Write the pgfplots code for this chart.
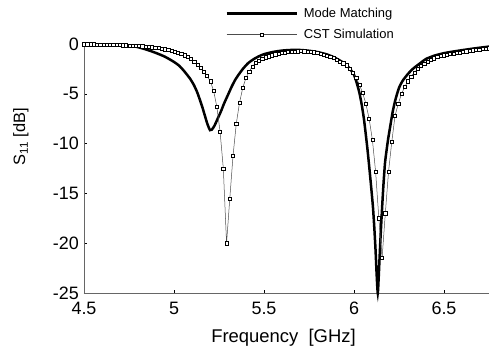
\documentclass[border=0pt]{standalone}
\usepackage{pgfplots}
\pgfplotsset{compat=1.18}
\usepackage{fontspec}
\setmainfont{Liberation Sans}
\begin{document}
\begin{tikzpicture}
\path[use as bounding box] (-84bp,-55bp) rectangle (405bp,293bp);
\begin{axis}[
 at={(0,0)}, anchor=south west,
 scale only axis, width=405bp, height=249bp,
 xmin=4.5, xmax=6.75, ymin=-25, ymax=0,
 axis x line=bottom, axis y line=left,
 axis line style={-, draw=gray!80!black, line width=0.6bp},
 xtick={4.5,5,5.5,6,6.5}, ytick={-25,-20,-15,-10,-5,0},
 tick align=inside, major tick length=3bp, tick style={black, line width=0.5bp},
 /pgf/number format/assume math mode=true,
 ticklabel style={font=\fontsize{18}{20}\selectfont},
 yticklabel style={inner sep=2bp, xshift=-3bp},
 xticklabel style={inner sep=2bp, yshift=-7bp},
 xlabel={Frequency\ \ [GHz]}, ylabel={S\textsubscript{11} [dB]},
 label style={font=\fontsize{18.5}{20}\selectfont},
 xlabel style={at={(axis description cs:0.4926,-0.178)}, anchor=center},
 ylabel style={at={(axis description cs:-0.1556,0.627)}, anchor=center, font=\fontsize{16.5}{18}\selectfont},
 clip=false,
 legend style={draw=none, fill=none, at={(axis description cs:0.341,1.162)}, anchor=north west,
   font=\fontsize{13}{15}\selectfont, row sep=6.5bp,
   /tikz/every odd column/.append style={column sep=4bp}},
 legend cell align=left,
 legend image code/.code={\draw[mark repeat=2,mark phase=2,#1] plot coordinates {(0bp,0bp) (35bp,0bp) (70bp,0bp)};},
]
\addplot[black, line width=2.5bp, smooth, tension=0.4] coordinates {
(4.50,-0.03) (4.55,-0.04) (4.60,-0.05) (4.65,-0.07) (4.70,-0.10) (4.75,-0.15)
(4.80,-0.32) (4.85,-0.58) (4.90,-0.90) (4.95,-1.28) (5.00,-1.80) (5.03,-2.20)
(5.06,-2.80) (5.09,-3.50) (5.11,-4.10) (5.13,-4.90) (5.155,-6.20) (5.17,-7.10)
(5.185,-8.00) (5.20,-8.65) (5.21,-8.60) (5.225,-8.20) (5.24,-7.60) (5.26,-6.80)
(5.28,-5.90) (5.30,-5.10) (5.32,-4.30) (5.34,-3.60) (5.36,-3.05) (5.385,-2.45)
(5.41,-1.95) (5.44,-1.55) (5.47,-1.25) (5.50,-1.02) (5.55,-0.80) (5.60,-0.66)
(5.65,-0.60) (5.70,-0.60) (5.75,-0.68) (5.80,-0.82) (5.85,-1.05) (5.89,-1.35)
(5.93,-1.75) (5.96,-2.15) (5.98,-2.55) (6.00,-3.10) (6.015,-3.90) (6.03,-4.90)
(6.043,-6.10) (6.055,-7.50) (6.065,-9.00) (6.075,-10.60) (6.085,-12.40) (6.095,-14.30)
(6.105,-16.30) (6.113,-18.50) (6.12,-20.80) (6.126,-23.20) (6.132,-25.00) (6.137,-23.50)
(6.142,-21.50) (6.148,-19.20) (6.155,-16.80) (6.163,-14.30) (6.172,-12.00) (6.18,-10.80)
(6.19,-9.50) (6.20,-8.40) (6.215,-6.80) (6.23,-5.60) (6.25,-4.40) (6.27,-3.70)
(6.30,-3.00) (6.33,-2.45) (6.37,-1.90) (6.40,-1.50) (6.45,-1.15) (6.50,-0.92)
(6.55,-0.76) (6.60,-0.62) (6.65,-0.49) (6.70,-0.37) (6.75,-0.26)
};
\addlegendentry{Mode Matching}
\addplot[gray!60!black, line width=0.5bp, mark=square*, mark size=1.6bp,
  mark options={fill=white, draw=black, line width=0.5bp}] coordinates {
(4.500,-0.02) (4.518,-0.02) (4.536,-0.03) (4.554,-0.03) (4.572,-0.04) (4.590,-0.04)
(4.608,-0.05) (4.626,-0.06) (4.644,-0.07) (4.662,-0.08) (4.680,-0.09) (4.698,-0.10)
(4.716,-0.12) (4.734,-0.13) (4.752,-0.15) (4.770,-0.17) (4.788,-0.19) (4.806,-0.21)
(4.824,-0.23) (4.842,-0.26) (4.860,-0.29) (4.878,-0.32) (4.896,-0.36) (4.914,-0.41)
(4.932,-0.46) (4.950,-0.52) (4.968,-0.59) (4.986,-0.67) (5.004,-0.76) (5.022,-0.87)
(5.040,-0.99) (5.058,-1.13) (5.076,-1.30) (5.094,-1.50) (5.112,-1.75) (5.130,-2.05)
(5.148,-2.40) (5.166,-2.80) (5.184,-3.20) (5.202,-3.75) (5.220,-4.70) (5.238,-6.30)
(5.256,-8.80) (5.274,-12.50) (5.292,-20.00) (5.310,-15.50) (5.328,-11.20) (5.346,-8.00)
(5.364,-5.90) (5.382,-4.40) (5.400,-3.40) (5.418,-2.75) (5.436,-2.25) (5.454,-1.90)
(5.472,-1.65) (5.490,-1.47) (5.508,-1.33) (5.526,-1.22) (5.544,-1.12) (5.562,-1.03)
(5.580,-0.96) (5.598,-0.90) (5.616,-0.85) (5.634,-0.80) (5.652,-0.77) (5.670,-0.74)
(5.688,-0.72) (5.706,-0.71) (5.724,-0.72) (5.742,-0.74) (5.760,-0.77) (5.778,-0.82)
(5.796,-0.88) (5.814,-0.96) (5.832,-1.06) (5.850,-1.18) (5.868,-1.30) (5.886,-1.42)
(5.904,-1.58) (5.922,-1.75) (5.940,-1.93) (5.958,-2.13) (5.976,-2.45) (5.994,-2.85)
(6.012,-3.35) (6.030,-4.10) (6.048,-4.90) (6.066,-6.00) (6.084,-7.50) (6.102,-9.60)
(6.120,-12.80) (6.138,-17.50) (6.156,-21.50) (6.174,-17.00) (6.192,-12.80) (6.210,-9.80)
(6.228,-7.20) (6.246,-6.00) (6.264,-5.00) (6.282,-4.30) (6.300,-3.75) (6.318,-3.25)
(6.336,-2.85) (6.354,-2.50) (6.372,-2.20) (6.390,-1.95) (6.408,-1.75) (6.426,-1.58)
(6.444,-1.43) (6.462,-1.30) (6.480,-1.19) (6.498,-1.12) (6.516,-1.06) (6.534,-1.00)
(6.552,-0.94) (6.570,-0.89) (6.588,-0.84) (6.606,-0.78) (6.624,-0.73) (6.642,-0.68)
(6.660,-0.63) (6.678,-0.59) (6.696,-0.55) (6.714,-0.51) (6.732,-0.47) (6.750,-0.43)
};
\addlegendentry{CST Simulation}
\end{axis}
\end{tikzpicture}
\end{document}
